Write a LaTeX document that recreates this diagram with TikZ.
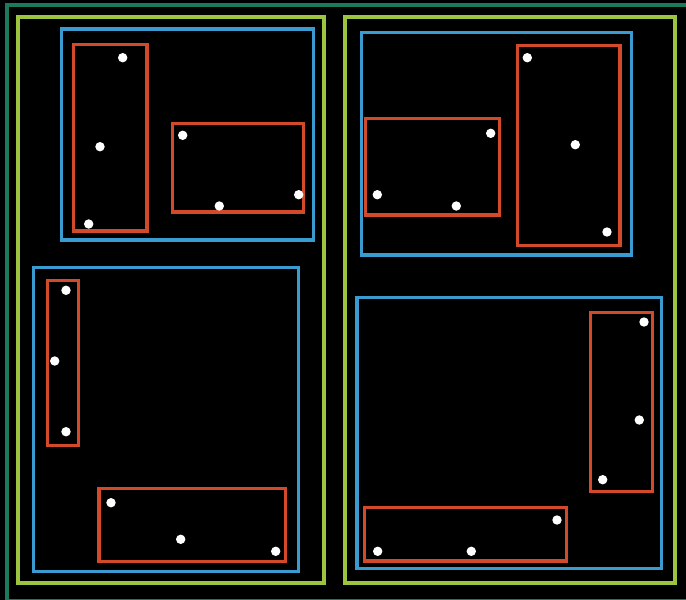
\documentclass[tikz,border=0pt]{standalone}
\definecolor{dkgreen}{HTML}{1C7A5C}
\definecolor{ltgreen}{HTML}{9CC43E}
\definecolor{rblue}{HTML}{3A9BD0}
\definecolor{rred}{HTML}{D34A2B}
\tikzset{
  rootbox/.style={draw=dkgreen,line width=4pt},
  levelbox/.style={draw=ltgreen,line width=3.8pt},
  midbox/.style={draw=rblue,line width=3.4pt},
  leafbox/.style={draw=rred,line width=3.4pt},
  pt/.style={fill=white}
}
\begin{document}
\begin{tikzpicture}[x=1pt,y=-1pt]
\useasboundingbox (0,0) rectangle (686,600);
\fill[black] (0,0) rectangle (686,600);
% root
\draw[rootbox] (6.7,4.7) rectangle (692,600.5);
% second level
\draw[levelbox] (18,16.7) rectangle (324,583);
\draw[levelbox] (345,16.7) rectangle (675,583);
% third level
\draw[midbox] (61.5,29) rectangle (313.5,240);
\draw[midbox] (33.7,267.7) rectangle (298.3,571.7);
\draw[midbox] (361.7,32.7) rectangle (631.7,255);
\draw[midbox] (357,297.7) rectangle (661.7,568.3);
% leaves
\draw[leafbox] (73.7,44.3) rectangle (147,231);
\draw[leafbox] (172.3,123.3) rectangle (303.7,212);
\draw[leafbox] (47.7,280.7) rectangle (78.3,445.7);
\draw[leafbox] (99,488.7) rectangle (285.7,561.3);
\draw[leafbox] (365.7,118.3) rectangle (499.3,215);
\draw[leafbox] (517.3,45.3) rectangle (620,245.7);
\draw[leafbox] (590.3,312.3) rectangle (652.7,491.7);
\draw[leafbox] (364.7,507.7) rectangle (566.3,561);
% points
\foreach \p in {(122.7,57.7),(100,146.7),(88.7,224),
                (182.7,135.3),(219.3,206),(298.7,194.7),
                (66,290.3),(54.7,361),(66,431.7),
                (111,502.7),(180.7,539.3),(275.7,551.3),
                (490.7,133.3),(377.3,194.7),(456.3,206),
                (527.3,57.7),(575.3,144.7),(607,232),
                (644,322),(639.3,420),(602.7,479.7),
                (557,520),(377.7,551.3),(471.3,551.3)}
  \fill[pt] \p circle (4.7);
\end{tikzpicture}
\end{document}
